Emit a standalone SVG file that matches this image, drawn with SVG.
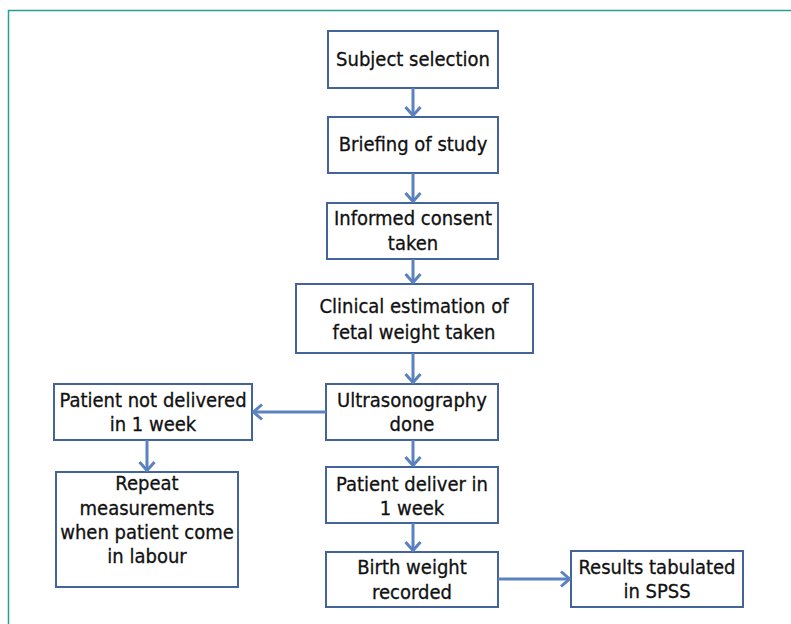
<svg xmlns="http://www.w3.org/2000/svg" width="791" height="624" viewBox="0 0 791 624">
<defs>
<style>
.box{fill:#fff;stroke:#44639a;stroke-width:2}
.t{font-family:"DejaVu Sans Condensed","DejaVu Sans",sans-serif;font-size:20px;fill:#111;stroke:#111;stroke-width:0.3;text-anchor:middle}
.c{fill:none;stroke:#5a82c0;stroke-width:3}
</style>
<marker id="arr" viewBox="0 0 12 18" refX="11" refY="9" markerWidth="12" markerHeight="18" markerUnits="userSpaceOnUse" orient="auto">
<path d="M2,1.5 L10.5,9 L2,16.5" fill="none" stroke="#5a82c0" stroke-width="3"/>
</marker>
</defs>
<rect width="791" height="624" fill="#fff"/>
<path d="M8.5,624 L8.5,10.5 L791,10.5" fill="none" stroke="#2a9d94" stroke-width="1.5"/>
<g id="n1"><rect class="box" x="328" y="31" width="170" height="57"/><text class="t" x="413" y="66">Subject selection</text></g>
<g id="n2"><rect class="box" x="328" y="117" width="170" height="56"/><text class="t" x="413" y="151">Briefing of study</text></g>
<g id="n3"><rect class="box" x="327" y="203" width="171" height="56"/><text class="t" x="413" y="225">Informed consent</text><text class="t" x="413" y="250">taken</text></g>
<g id="n4"><rect class="box" x="296" y="284" width="237" height="69"/><text class="t" x="414" y="313">Clinical estimation of</text><text class="t" x="414" y="339">fetal weight taken</text></g>
<g id="n5"><rect class="box" x="326" y="384" width="172" height="56"/><text class="t" x="412" y="407">Ultrasonography</text><text class="t" x="412" y="431">done</text></g>
<g id="n6"><rect class="box" x="54" y="384" width="198" height="56"/><text class="t" x="153" y="407">Patient not delivered</text><text class="t" x="153" y="431">in 1 week</text></g>
<g id="n7"><rect class="box" x="56" y="472" width="182" height="115"/><text class="t" x="147" y="490">Repeat</text><text class="t" x="147" y="515">measurements</text><text class="t" x="147" y="539">when patient come</text><text class="t" x="147" y="563">in labour</text></g>
<g id="n8"><rect class="box" x="326" y="467" width="172" height="56"/><text class="t" x="412" y="491">Patient deliver in</text><text class="t" x="412" y="515">1 week</text></g>
<g id="n9"><rect class="box" x="326" y="552" width="172" height="55"/><text class="t" x="412" y="574">Birth weight</text><text class="t" x="412" y="599">recorded</text></g>
<g id="n10"><rect class="box" x="571" y="551" width="172" height="56"/><text class="t" x="657" y="574">Results tabulated</text><text class="t" x="657" y="598">in SPSS</text></g>
<g id="connectors">
<line class="c" x1="413" y1="88" x2="413" y2="116" marker-end="url(#arr)"/>
<line class="c" x1="413" y1="173" x2="413" y2="202" marker-end="url(#arr)"/>
<line class="c" x1="413" y1="259" x2="413" y2="283" marker-end="url(#arr)"/>
<line class="c" x1="413" y1="353" x2="413" y2="383" marker-end="url(#arr)"/>
<line class="c" x1="413" y1="440" x2="413" y2="466" marker-end="url(#arr)"/>
<line class="c" x1="413" y1="523" x2="413" y2="551" marker-end="url(#arr)"/>
<line class="c" x1="326" y1="412" x2="253" y2="412" marker-end="url(#arr)"/>
<line class="c" x1="147" y1="440" x2="147" y2="471" marker-end="url(#arr)"/>
<line class="c" x1="498" y1="579" x2="570" y2="579" marker-end="url(#arr)"/>
</g>
</svg>
